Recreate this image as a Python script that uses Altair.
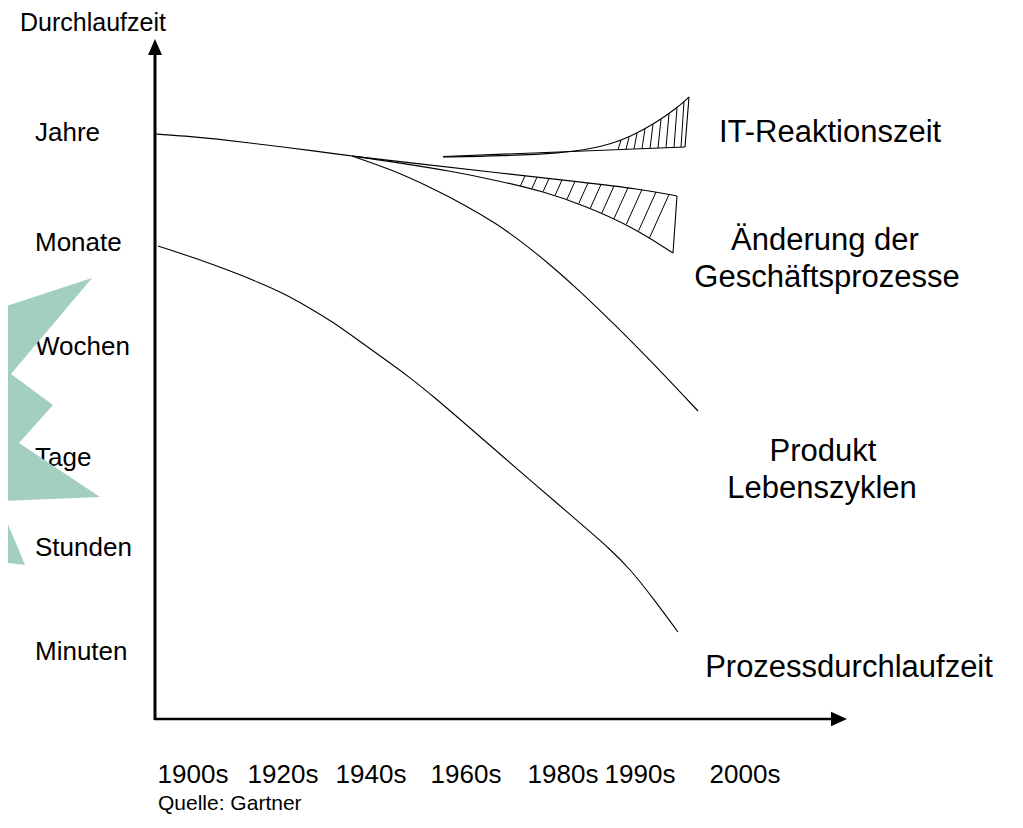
import altair as alt
import pandas as pd
import numpy as np

# Schematic coordinate plane (in px of the page)
shared_x = [155, 185, 217, 250, 283, 315, 337, 352]
shared_y = [134, 136, 139, 143, 147, 151, 154, 156]
produkt_x = [352, 390, 430, 465, 497, 522, 547, 580, 615, 650, 698]
produkt_y = [156, 169, 187, 205, 224, 242, 262, 291, 325, 360, 411]
aend_up_x = [352, 420, 500, 580, 640, 677]
aend_up_y = [156, 164, 173, 182, 189, 196]
aend_lo_x = [352, 400, 450, 500, 545, 583, 633, 673]
aend_lo_y = [156, 163, 171, 181, 192, 205, 227, 253]
it_up_x = [443, 500, 563, 590, 610, 630, 657, 677, 689]
it_up_y = [157, 156, 153, 149, 144, 137, 122, 108, 97]
it_lo_x = [443, 685]
it_lo_y = [156.5, 147]
prozess_x = [158, 195, 233, 258, 283, 308, 333, 358, 383, 408, 433, 470, 500, 530, 580, 610, 630, 653, 678]
prozess_y = [246, 258, 272, 282, 293, 307, 322, 340, 358, 376, 396, 428, 454, 480, 523, 549, 569, 598, 632]

it_hatch_x = [618, 626, 634, 642, 650, 658, 666, 674, 681]
aend_hatch_x = [525, 537, 549, 562, 575, 588, 601, 614, 628, 642, 656, 669]

y_labels = ["Jahre", "Monate", "Wochen", "Tage", "Stunden", "Minuten"]
y_label_pos = [133, 243, 347, 458, 548, 652]
x_labels = ["1900s", "1920s", "1940s", "1960s", "1980s", "1990s", "2000s"]
x_label_pos = [193, 283, 371, 466, 563, 640, 745]

right_labels = ["IT-Reaktionszeit", "Änderung der", "Geschäftsprozesse", "Produkt",
                "Lebenszyklen", "Prozessdurchlaufzeit"]
right_x = [830, 825, 827, 823, 822, 849]
right_y = [133, 241, 278, 452, 489, 668]

# teal star shape (horizontal spans)
star_piece = [1, 1, 1, 1, 1, 1, 1, 2, 2, 2]
star_y = [278, 308, 374, 405, 443, 497, 501, 505, 562, 565]
star_xl = [92, 0, 0, 0, 0, 0, 0, 0, 0, 25]
star_xr = [92, 66.7, 11, 53, 19, 100, 0, 0, 23.75, 25]

XS = alt.Scale(domain=[8, 1015], nice=False, zero=False)
YS = alt.Scale(domain=[8, 820], reverse=True, nice=False, zero=False)


def X(f):
    return alt.X(f, type="quantitative", scale=XS, axis=None)


def Y(f):
    return alt.Y(f, type="quantitative", scale=YS, axis=None)


# lines
rows = []
for name, xs, ys in [("shared", shared_x, shared_y), ("produkt", produkt_x, produkt_y),
                     ("aend_up", aend_up_x, aend_up_y), ("aend_lo", aend_lo_x, aend_lo_y),
                     ("it_up", it_up_x, it_up_y), ("it_lo", it_lo_x, it_lo_y),
                     ("prozess", prozess_x, prozess_y)]:
    for i, (a, b) in enumerate(zip(xs, ys)):
        rows.append({"series": name, "i": i, "x": a, "y": b})
lines_df = pd.DataFrame(rows)

lines = alt.Chart(lines_df).mark_line(interpolate="basis", color="black", strokeWidth=1.1).encode(
    x=X("x"), y=Y("y"), detail="series:N", order="i:Q")

# segments: edges, hatches
seg = [
    {"x": aend_up_x[-1], "y": aend_up_y[-1], "x2": aend_lo_x[-1], "y2": aend_lo_y[-1], "w": 1.1},
    {"x": it_up_x[-1], "y": it_up_y[-1], "x2": it_lo_x[-1], "y2": it_lo_y[-1], "w": 1.1},
]
for xb in it_hatch_x:
    xt = xb + 3
    seg.append({"x": xb, "y": float(np.interp(xb, it_lo_x, it_lo_y)),
                "x2": xt, "y2": float(np.interp(xt, it_up_x, it_up_y)), "w": 1.0})
for xt in aend_hatch_x:
    yt = float(np.interp(xt, aend_up_x, aend_up_y))
    xb = xt
    for _ in range(8):
        yb = float(np.interp(xb, aend_lo_x, aend_lo_y))
        xb = xt - 0.45 * (yb - yt)
    seg.append({"x": xt, "y": yt, "x2": xb, "y2": yb, "w": 1.0})
seg_df = pd.DataFrame(seg)
segs = alt.Chart(seg_df).mark_rule(color="black").encode(
    x=X("x"), y=Y("y"), x2="x2", y2="y2", strokeWidth=alt.StrokeWidth("w:Q", scale=None))

# axes
axes_df = pd.DataFrame([
    {"x": 155, "y": 52, "x2": 155, "y2": 720, "w": 3},
    {"x": 154, "y": 719, "x2": 832, "y2": 719, "w": 2.5},
])
axes = alt.Chart(axes_df).mark_rule(color="black").encode(
    x=X("x"), y=Y("y"), x2="x2", y2="y2", strokeWidth=alt.StrokeWidth("w:Q", scale=None))

arrow_up = alt.Chart(pd.DataFrame({"x": [155], "y": [47]})).mark_point(
    shape="M0,-1L0.875,1L-0.875,1Z", size=256, filled=True, color="black", opacity=1, strokeWidth=0
).encode(x=X("x"), y=Y("y"))
arrow_right = alt.Chart(pd.DataFrame({"x": [839], "y": [719]})).mark_point(
    shape="M1,0L-1,0.9L-1,-0.9Z", size=256, filled=True, color="black", opacity=1, strokeWidth=0
).encode(x=X("x"), y=Y("y"))

# texts
left_df = pd.DataFrame({
    "t": ["Durchlaufzeit"] + y_labels + ["Quelle: Gartner"],
    "x": [20] + [35] * len(y_labels) + [158],
    "y": [23] + y_label_pos + [804],
    "fs": [25] + [26] * len(y_labels) + [21],
})
left_text = alt.Chart(left_df).mark_text(font="Liberation Sans", align="left", baseline="middle",
                                         color="black").encode(
    x=X("x"), y=Y("y"), text="t:N", size=alt.Size("fs:Q", scale=None))

center_df = pd.DataFrame({
    "t": x_labels + right_labels,
    "x": x_label_pos + right_x,
    "y": [775] * len(x_labels) + right_y,
    "fs": [26] * len(x_labels) + [31] * len(right_labels),
})
center_text = alt.Chart(center_df).mark_text(font="Liberation Sans", align="center", baseline="middle",
                                             color="black").encode(
    x=X("x"), y=Y("y"), text="t:N", size=alt.Size("fs:Q", scale=None))

star_df = pd.DataFrame({"piece": star_piece, "y": star_y, "xl": star_xl, "xr": star_xr})
star = alt.Chart(star_df).mark_area(orient="horizontal", color="#A3CFC1", opacity=1).encode(
    y=Y("y"), x=X("xl"), x2="xr", detail="piece:N")

chart = alt.layer(lines, segs, axes, arrow_up, arrow_right, left_text, center_text, star).properties(
    width=1007, height=812, autosize=alt.AutoSizeParams(type="none"), padding=0,
    background="white"
).configure_view(stroke=None)

chart.save("out.html", embed_options={"renderer": "svg", "actions": False})
